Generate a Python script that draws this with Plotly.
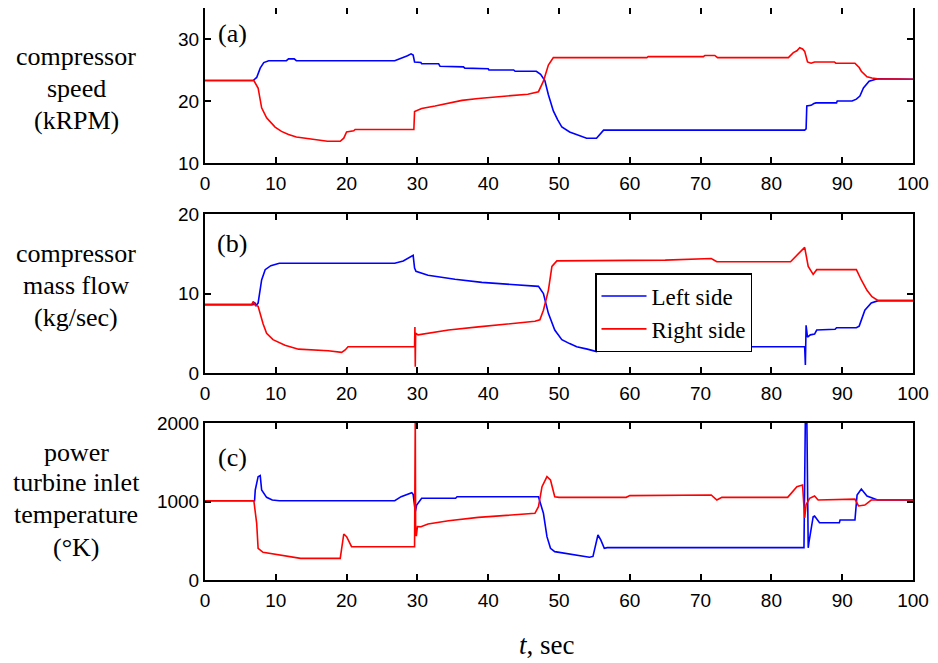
import plotly.graph_objects as go

# ---------------- data ----------------
# Panel (a): compressor speed (kRPM)
a_left_t = [0, 6.8, 7.3, 7.8, 8.3, 9.0, 11.5, 11.8, 12.6, 12.9, 26.8, 27.8, 28.6, 29.1, 29.4, 29.6,
            30.5, 30.6, 33.0, 33.2, 36.5, 36.7, 40.0, 40.1, 43.6, 43.8, 46.8, 47.4, 48.0, 48.5, 49.2,
            49.8, 50.4, 51.5, 53.0, 53.9, 55.3, 55.8, 56.3, 84.7, 84.9, 85.0, 85.6, 86.0, 86.3, 89.2,
            89.3, 91.4, 92.0, 92.5, 93.0, 93.8, 95.0, 100]
a_left_v = [23.3, 23.3, 23.8, 25.3, 26.2, 26.5, 26.5, 26.8, 26.8, 26.5, 26.5, 26.9, 27.3, 27.6, 27.4, 26.3,
            26.2, 26.0, 26.0, 25.6, 25.5, 25.3, 25.2, 25.0, 25.0, 24.8, 24.8, 24.3, 23.3, 21.0, 18.4,
            17.0, 15.8, 15.0, 14.3, 14.0, 14.0, 14.6, 15.3, 15.3, 15.5, 19.2, 19.3, 19.6, 19.7, 19.7,
            20.0, 20.0, 20.3, 20.8, 22.1, 23.2, 23.6, 23.5]
a_right_t = [0, 6.9, 7.5, 7.8, 8.0, 8.7, 9.3, 9.9, 10.8, 11.8, 12.9, 14.1, 15.5, 17.3, 19.1, 19.6, 20.0,
             21.0, 21.2, 29.5, 29.6, 30.6, 32.5, 34.4, 36.3, 38.6, 41.0, 43.3, 45.6, 47.1, 47.8, 48.5,
             49.2, 62.4, 62.6, 70.4, 70.6, 72.0, 72.4, 82.4, 83.1, 83.6, 84.0, 84.4, 84.7, 85.1, 85.6,
             86.1, 88.9, 89.1, 91.8, 92.4, 92.7, 93.5, 94.2, 95.0, 100]
a_right_v = [23.3, 23.3, 22.1, 20.0, 18.9, 17.3, 16.5, 15.8, 15.1, 14.6, 14.2, 14.0, 13.7, 13.5, 13.5, 14.0,
             15.0, 15.2, 15.4, 15.4, 18.3, 18.8, 19.2, 19.6, 20.1, 20.4, 20.6, 20.9, 21.1, 21.5, 23.2,
             25.8, 27.0, 27.0, 27.15, 27.15, 27.35, 27.35, 27.0, 27.0, 27.8, 28.1, 28.6, 28.4, 28.0,
             26.3, 26.1, 26.3, 26.3, 26.1, 26.1, 25.4, 24.8, 23.9, 23.7, 23.6, 23.5]

# Panel (b): compressor mass flow (kg/sec)
b_left_t = [0, 6.8, 7.0, 7.2, 7.5, 8.0, 8.5, 9.3, 10.5, 26.8, 28.0, 28.7, 29.4, 29.6, 29.8, 31.5, 33.5,
            35.3, 39.1, 44.7, 47.1, 47.8, 48.5, 49.4, 50.4, 51.5, 52.5, 54.0, 55.3, 55.8, 56.3, 84.7,
            84.8, 84.9, 85.1, 85.5, 86.1, 86.4, 89.0, 89.2, 92.0, 92.4, 92.7, 93.2, 94.1, 95.1, 100]
b_left_v = [8.6, 8.6, 8.9, 8.5, 8.8, 11.7, 13.0, 13.5, 13.8, 13.8, 14.1, 14.4, 14.8, 13.2, 12.8, 12.3, 12.0,
            11.8, 11.4, 11.0, 10.9, 10.0, 7.5, 5.4, 4.2, 3.7, 3.3, 3.0, 2.7, 3.0, 3.3, 3.3,
            1.0, 6.0, 4.5, 4.8, 4.9, 5.4, 5.5, 5.7, 5.7, 5.9, 6.7, 7.9, 8.8, 9.1, 9.1]
b_right_t = [0, 6.6, 6.8, 7.0, 7.5, 8.2, 8.7, 9.6, 11.3, 13.2, 17.4, 19.3, 19.8, 20.2, 29.6, 29.65, 29.7,
             29.75, 30.1, 31.5, 34.4, 38.6, 43.3, 46.6, 47.3, 47.8, 48.5, 49.0, 49.7, 65.0, 71.5, 72.3,
             82.7, 83.6, 84.7, 85.2, 85.9, 86.4, 92.0, 92.7, 93.5, 94.2, 95.1, 100]
b_right_v = [8.6, 8.6, 9.0, 8.6, 8.4, 6.2, 5.0, 4.2, 3.5, 3.0, 2.8, 2.6, 2.9, 3.3, 3.3, 5.8, 0.8,
             5.0, 4.8, 5.0, 5.4, 5.8, 6.2, 6.5, 6.7, 7.9, 10.4, 13.4, 14.1, 14.2, 14.4, 14.0,
             14.0, 14.8, 15.8, 13.4, 12.4, 13.0, 13.0, 11.7, 10.4, 9.6, 9.1, 9.1]

# Panel (c): power turbine inlet temperature (°K)
c_left_t = [0, 7.0, 7.1, 7.5, 7.8, 8.0, 8.7, 9.5, 10.5, 26.8, 27.7, 29.2, 29.4, 29.7, 29.9, 30.6, 35.4,
            35.6, 47.1, 47.8, 48.3, 48.8, 49.4, 52.3, 54.3, 54.8, 55.1, 55.5, 55.9, 56.4, 56.8, 84.6,
            84.8, 85.0, 85.2, 85.3, 85.9, 86.1, 86.8, 89.6, 89.7, 91.8, 92.1, 92.7, 93.5, 95.0, 100]
c_left_v = [1010, 1010, 1147, 1316, 1330, 1147, 1053, 1020, 1010, 1010, 1062, 1113, 1090, 870, 955, 1041, 1041,
            1060, 1060, 850, 552, 404, 361, 320, 290, 300, 424, 573, 510, 404, 412, 412,
            2100, 2100, 410, 480, 806, 815, 730, 730, 764, 764, 1083, 1159, 1070, 1020, 1020]
c_right_t = [0, 6.9, 7.3, 7.5, 8.2, 9.9, 12.6, 13.5, 19.1, 19.6, 20.0, 20.7, 29.6, 29.7, 29.75, 29.85,
             30.0, 30.5, 31.5, 34.4, 38.6, 43.3, 46.6, 47.1, 47.6, 48.3, 48.8, 49.4, 50.0, 59.5, 60.0,
             71.5, 72.3, 73.0, 82.3, 83.6, 84.4, 84.7, 84.9, 85.4, 86.1, 86.6, 91.8, 92.3, 93.2, 94.1, 100]
c_right_v = [1010, 1010, 722, 404, 353, 331, 297, 276, 276, 586, 552, 424, 424, 2100, 600, 560,
             680, 679, 713, 755, 798, 828, 850, 934, 1189, 1316, 1274, 1061, 1053, 1053, 1075,
             1083, 1019, 1053, 1053, 1189, 1210, 790, 960, 1041, 1070, 1020, 1030, 943, 955, 1019, 1020]

x_ticks = [0, 10, 20, 30, 40, 50, 60, 70, 80, 90, 100]
series_names = ["Left side", "Right side"]
panel_tags = ["(a)", "(b)", "(c)"]
y_label_lines = [["compressor", "speed", "(kRPM)"],
                 ["compressor", "mass flow", "(kg/sec)"],
                 ["power", "turbine inlet", "temperature", "(°K)"]]
y_ranges = [[10, 35], [0, 20], [0, 2000]]
y_ticks = [[10, 20, 30], [0, 10, 20], [0, 1000, 2000]]

# ---------------- styling ----------------
BLUE = "#0000FF"
RED = "#FF0000"
SERIF = "Liberation Serif"
SANS = "Liberation Sans"

# page body has an 8px margin: figure is drawn 8px smaller, positions shifted by 8px
OFF = 8
W, H = 938 - OFF, 663 - OFF
PL, PR, PT, PB = 205 - OFF, 913 - OFF, 0, 580 - OFF   # plot area in figure pixels
PW, PH = PR - PL, PB - PT


def px(x):  # reference x pixel -> paper
    return (x - OFF - PL) / PW


def py(y):  # reference y pixel -> paper
    return (PB - (y - OFF)) / PH


fig = go.Figure()
panels = [
    (a_left_t, a_left_v, a_right_t, a_right_v),
    (b_left_t, b_left_v, b_right_t, b_right_v),
    (c_left_t, c_left_v, c_right_t, c_right_v),
]
for i, (lt, lv, rt, rv) in enumerate(panels):
    xa = "x" if i == 0 else f"x{i+1}"
    ya = "y" if i == 0 else f"y{i+1}"
    fig.add_trace(go.Scatter(x=lt, y=lv, mode="lines", name=series_names[0],
                             line=dict(color=BLUE, width=1.6), xaxis=xa, yaxis=ya,
                             showlegend=(i == 1)))
    fig.add_trace(go.Scatter(x=rt, y=rv, mode="lines", name=series_names[1],
                             line=dict(color=RED, width=1.6), xaxis=xa, yaxis=ya,
                             showlegend=(i == 1)))

domains = [[py(163), 1.0], [py(373), py(214)], [0.0, py(423)]]
axis_common = dict(showline=True, linecolor="black", linewidth=2, mirror="ticks",
                   ticks="inside", ticklen=6, tickwidth=1.5, tickcolor="black",
                   showgrid=False, zeroline=False, automargin=False,
                   tickfont=dict(family=SANS, size=19, color="black"))
layout = {}
for i in range(3):
    xk = "xaxis" if i == 0 else f"xaxis{i+1}"
    yk = "yaxis" if i == 0 else f"yaxis{i+1}"
    ya = "y" if i == 0 else f"y{i+1}"
    xa = "x" if i == 0 else f"x{i+1}"
    layout[xk] = dict(axis_common, domain=[0, 1], range=[0, 100], tickvals=x_ticks,
                      anchor=ya, ticklabelstandoff=2)
    layout[yk] = dict(axis_common, domain=domains[i], range=y_ranges[i], tickvals=y_ticks[i],
                      anchor=xa, ticklabelstandoff=0)
fig.update_layout(**layout)

annotations = []
label_line_y = [[57, 88.5, 120], [253, 285, 317], [452, 482, 514, 547]]
tag_y = [py(33), py(243), py(457)]
for i in range(3):
    for text, yy in zip(y_label_lines[i], label_line_y[i]):
        annotations.append(dict(text=text, xref="paper", yref="paper", x=px(76), y=py(yy),
                                xanchor="center", yanchor="middle", showarrow=False,
                                font=dict(family=SERIF, size=26, color="black")))
    annotations.append(dict(text=panel_tags[i], xref="paper", yref="paper", x=px(232),
                            y=tag_y[i], xanchor="center", yanchor="middle", showarrow=False,
                            font=dict(family=SERIF, size=26, color="black")))
annotations.append(dict(text="<i>t</i>, sec", xref="paper", yref="paper", x=px(547),
                        y=py(645), xanchor="center", yanchor="middle", showarrow=False,
                        font=dict(family=SERIF, size=27, color="black")))

fig.update_layout(
    width=W, height=H,
    margin=dict(l=PL, r=W - PR, t=PT, b=H - PB, autoexpand=False),
    paper_bgcolor="white", plot_bgcolor="white",
    annotations=annotations,
    legend=dict(x=px(595), y=py(273), xanchor="left", yanchor="top",
                bgcolor="white", bordercolor="black", borderwidth=1.5,
                font=dict(family=SERIF, size=23, color="black"),
                tracegroupgap=0, itemwidth=45),
)

fig.write_html("out.html")
